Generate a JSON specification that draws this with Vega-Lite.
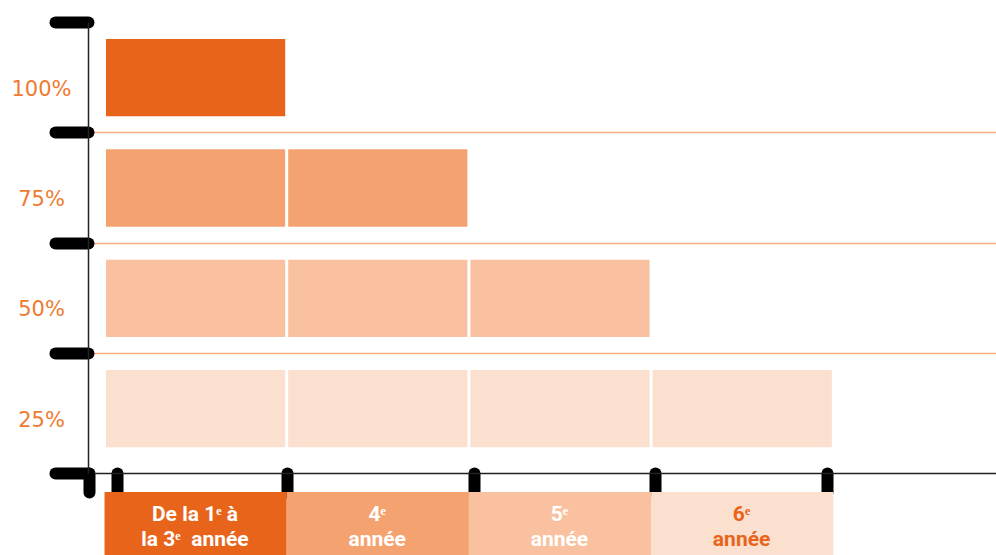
{
  "$schema": "https://vega.github.io/schema/vega-lite/v6.json",
  "width": 908,
  "height": 451,
  "autosize": {"type": "none"},
  "padding": {"left": 88, "top": 22, "right": 0, "bottom": 82},
  "background": "white",
  "config": {"view": {"stroke": null}},
  "datasets": {
    "cells": [
      {"grade": "1-3", "col": 0, "level": 3, "pct": "100%"},
      {"grade": "1-3", "col": 0, "level": 2, "pct": "75%"},
      {"grade": "4", "col": 1, "level": 2, "pct": "75%"},
      {"grade": "1-3", "col": 0, "level": 1, "pct": "50%"},
      {"grade": "4", "col": 1, "level": 1, "pct": "50%"},
      {"grade": "5", "col": 2, "level": 1, "pct": "50%"},
      {"grade": "1-3", "col": 0, "level": 0, "pct": "25%"},
      {"grade": "4", "col": 1, "level": 0, "pct": "25%"},
      {"grade": "5", "col": 2, "level": 0, "pct": "25%"},
      {"grade": "6", "col": 3, "level": 0, "pct": "25%"}
    ],
    "grades": [
      {"col": 0, "label": "De la 1ᵉ à\nla 3ᵉ\u00a0 année", "pct": "100%"},
      {"col": 1, "label": "4ᵉ\nannée", "pct": "75%"},
      {"col": 2, "label": "5ᵉ\nannée", "pct": "50%"},
      {"col": 3, "label": "6ᵉ\nannée", "pct": "25%"}
    ]
  },
  "layer": [
    {
      "data": {"name": "cells"},
      "mark": {"type": "rect", "binSpacing": 3, "yOffset": 15, "y2Offset": -15},
      "encoding": {
        "x": {
          "field": "col",
          "type": "quantitative",
          "bin": {"binned": true, "step": 1},
          "title": null,
          "scale": {"domain": [-0.0878, 4.8957], "nice": false, "zero": false},
          "axis": {
            "title": null,
            "values": [-0.085, 0.07, 1.004, 2.03, 3.024, 3.968],
            "labels": false,
            "grid": false,
            "domainColor": "#222222",
            "domainWidth": 1.5,
            "tickColor": "black",
            "tickWidth": 12,
            "tickSize": 19,
            "tickCap": "round",
            "zindex": 0
          }
        },
        "y": {
          "field": "level",
          "type": "quantitative",
          "bin": {"binned": true, "step": 1},
          "title": null,
          "scale": {"domain": [-0.0876, 4], "nice": false, "zero": false},
          "axis": {
            "title": null,
            "values": [-0.0876, 1, 2, 3, 4],
            "labelExpr": "datum.value < 0.5 ? '' : (datum.value * 25) + '%'",
            "labelOffset": 67,
            "labelAlign": "center",
            "labelBaseline": "middle",
            "labelPadding": 14,
            "labelFont": "DejaVu Sans",
            "labelFontSize": 21,
            "labelColor": "#EE7B30",
            "labelOverlap": false,
            "labelBound": false,
            "labelFlush": false,
            "tickColor": "black",
            "tickWidth": 12,
            "tickSize": 33,
            "tickCap": "round",
            "domainColor": "#222222",
            "domainWidth": 1.5,
            "grid": true,
            "gridColor": {
              "condition": {"test": "datum.value < 0.5 || datum.value == 4", "value": "transparent"},
              "value": "#F6AE84"
            },
            "gridWidth": 1.5,
            "zindex": 0
          }
        },
        "color": {
          "field": "pct",
          "type": "nominal",
          "scale": {
            "domain": ["100%", "75%", "50%", "25%"],
            "range": ["#E8641B", "#F4A370", "#F9C1A0", "#FBDFCF"]
          },
          "legend": null
        }
      }
    },
    {
      "data": {"name": "grades"},
      "mark": {"type": "rect", "binSpacing": 0},
      "encoding": {
        "x": {"field": "col", "type": "quantitative", "bin": {"binned": true, "step": 1}, "title": null},
        "y": {"datum": -0.26, "title": null},
        "y2": {"datum": -0.9},
        "color": {"field": "pct", "type": "nominal", "legend": null}
      }
    },
    {
      "data": {"name": "grades"},
      "mark": {
        "type": "text",
        "align": "center",
        "baseline": "alphabetic",
        "dx": 91,
        "font": "Roboto",
        "fontWeight": "bold",
        "fontSize": 21,
        "lineHeight": 25,
        "lineBreak": "\n"
      },
      "encoding": {
        "x": {"field": "col", "type": "quantitative", "title": null},
        "y": {"datum": -0.5227, "title": null},
        "text": {"field": "label"},
        "color": {
          "condition": {"test": "datum.pct == '25%'", "value": "#E8641B"},
          "value": "white"
        }
      }
    }
  ]
}
